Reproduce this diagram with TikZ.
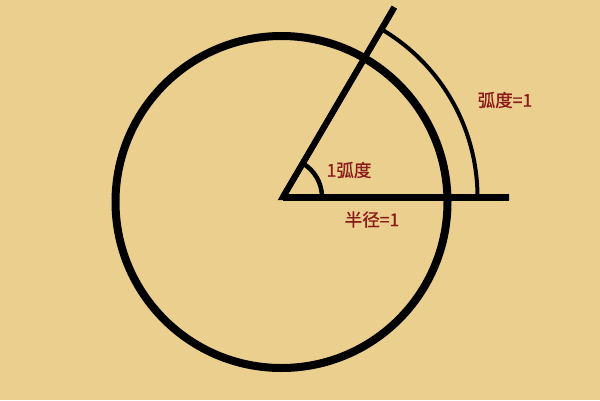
\documentclass[tikz,border=0pt]{standalone}
\usepackage{fontspec}
\usetikzlibrary{calc}
\newfontfamily\cjk[FakeBold=0.8]{Noto Sans CJK SC}
\definecolor{bg}{HTML}{EBCF8E}
\definecolor{lbl}{HTML}{8B1A1A}
\begin{document}
\begin{tikzpicture}[x=1pt,y=-1pt,
  lab/.style={text=lbl,font=\cjk\fontsize{17.5}{20}\selectfont,inner sep=0pt}]
\fill[bg] (0,0) rectangle (600,400);
\useasboundingbox (0,0) rectangle (600,400);
\coordinate (O) at (283,197);
\coordinate (C) at (281.5,202);
\coordinate (H) at (509,197);
\coordinate (R) at ($(O)+(-59.6:220)$);
\draw[line width=8pt] (C) circle[radius=166];
\draw[line width=7pt] (O) -- (H);
\draw[line width=6pt] (O) -- (R);
\draw[line width=4pt] ($(O)+(194.5,0)$) arc[start angle=0,end angle=-59.6,radius=194.5];
\draw[line width=4.5pt] ($(O)+(39,0)$) arc[start angle=0,end angle=-59.6,radius=39];
\draw[line width=6pt,line join=miter] (R) -- (O) -- (H);
\node[lab] (a) at (349,170) {1弧度};
\node[lab] (b) at (372,219.5) {半径=1};
\node[lab] (c) at (505,100) {弧度=1};
\end{tikzpicture}
\end{document}
